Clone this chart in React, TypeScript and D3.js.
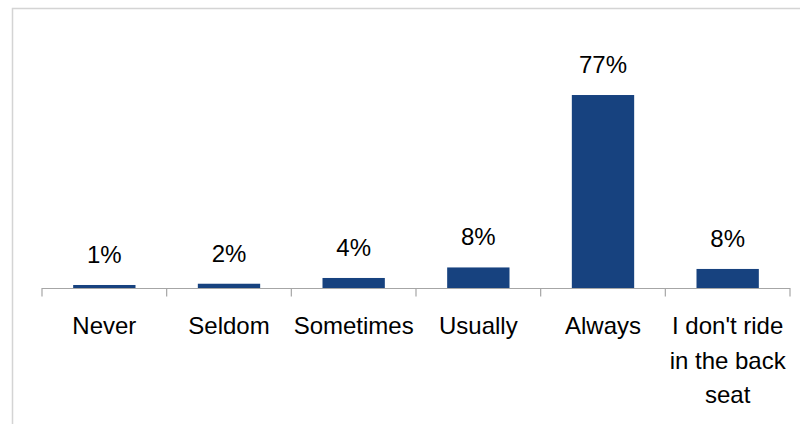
import React from 'react';
import * as d3 from 'd3';

const categories = ['Never', 'Seldom', 'Sometimes', 'Usually', 'Always', "I don't ride in the back seat"];
const categoryLines = [['Never'], ['Seldom'], ['Sometimes'], ['Usually'], ['Always'], ["I don't ride", 'in the back', 'seat']];
const values = [1.2, 1.7, 4.0, 8.2, 77, 7.6];

const width = 800, height = 424;
const axisY = 288;
const left = 42, right = 790;
const font = '"Liberation Sans", Arial, sans-serif';

export default function App() {
    const xTicks = d3.scaleBand<string>().domain(categories).range([left, right]).padding(0);
    const x = d3.scaleBand<string>().domain(categories).range([left, right])
        .paddingInner(0.5).paddingOuter(0.25);
    const y = d3.scaleLinear().domain([0, 80]).range([axisY, axisY - 200.5]);
    const fmt = (v: number) => d3.format('.0f')(v) + '%';

    const tickXs = categories.map(c => xTicks(c)!).concat([right]);

    return (
        <svg width={width} height={height} viewBox={`0 0 ${width} ${height}`}
            style={{ position: 'absolute', left: 0, top: 0, background: '#fff' }}
            fontFamily={font}>
            <rect x={12.5} y={8.5} width={820} height={500} fill="#fff" stroke="#d4d4d4" strokeWidth={1.5} />

            {categories.map((c, i) => (
                <rect key={c} x={x(c)} y={y(values[i])} width={x.bandwidth()}
                    height={axisY - y(values[i])} fill="#17427f" />
            ))}

            <line x1={left} x2={right} y1={axisY + 0.5} y2={axisY + 0.5} stroke="#a6a6a6" strokeWidth={1.2} />
            {tickXs.map((t, i) => (
                <line key={i} x1={t} x2={t} y1={axisY} y2={axisY + 8.5} stroke="#a6a6a6" strokeWidth={1.2} />
            ))}

            {categories.map((c, i) => (
                <text key={c} x={x(c)! + x.bandwidth() / 2} y={y(values[i]) - 22}
                    textAnchor="middle" fontSize={24} fill="#000">{fmt(values[i])}</text>
            ))}

            {categories.map((c, i) => (
                <text key={c} x={x(c)! + x.bandwidth() / 2} y={334} textAnchor="middle" fontSize={24} fill="#000">
                    {categoryLines[i].map((ln, j) => (
                        <tspan key={j} x={x(c)! + x.bandwidth() / 2} dy={j === 0 ? 0 : 34.5}>{ln}</tspan>
                    ))}
                </text>
            ))}
        </svg>
    );
}
